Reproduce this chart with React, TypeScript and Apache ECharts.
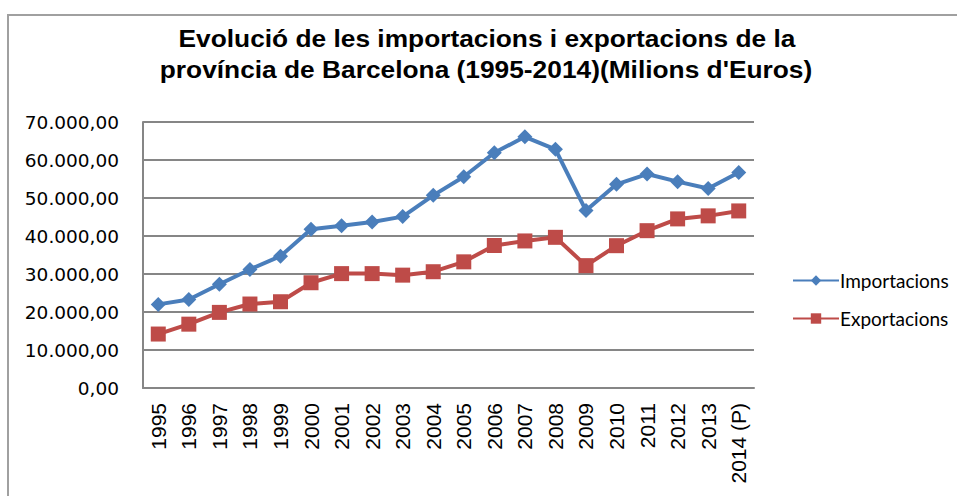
import React, { useEffect, useRef } from "react";
import * as echarts from "echarts";

const years = [
  "1995", "1996", "1997", "1998", "1999", "2000", "2001", "2002", "2003", "2004",
  "2005", "2006", "2007", "2008", "2009", "2010", "2011", "2012", "2013", "2014 (P)",
];
const importacions = [
  22000, 23300, 27300, 31200, 34700, 41750, 42700, 43700, 45100, 50700,
  55600, 61900, 66100, 62800, 46700, 53600, 56300, 54300, 52500, 56700,
];
const exportacions = [
  14200, 16800, 19900, 22100, 22700, 27700, 30100, 30100, 29700, 30600,
  33200, 37500, 38700, 39650, 32200, 37450, 41400, 44500, 45300, 46600,
];
const titleLines = [
  "Evolució de les importacions i exportacions de la",
  "província de Barcelona (1995-2014)(Milions d'Euros)",
];
const seriesNames = ["Importacions", "Exportacions"];
const yMin = 0;
const yMax = 70000;
const yStep = 10000;

function fmt(v: number): string {
  const s = Math.round(v).toString();
  const withDots = s.replace(/\B(?=(\d{3})+(?!\d))/g, ".");
  return withDots + ",00";
}

export default function App() {
  const ref = useRef<HTMLDivElement>(null);
  useEffect(() => {
    if (!ref.current) return;
    const chart = echarts.init(ref.current, null, { renderer: "svg" });
    chart.setOption({
      animation: false,
      backgroundColor: "#ffffff",
      graphic: [
        {
          type: "rect",
          shape: { x: 8, y: 15, width: 1000, height: 600 },
          style: { fill: "none", stroke: "#a0a0a0", lineWidth: 2 },
          z: -1,
        },
        {
          type: "text",
          x: 487,
          y: 39,
          scaleX: 1.12,
          style: {
            text: titleLines[0],
            font: 'bold 23.5px "Liberation Sans", Arial, sans-serif',
            fill: "#000",
            align: "center",
            verticalAlign: "middle",
          },
        },
        {
          type: "text",
          x: 486,
          y: 70,
          scaleX: 1.12,
          style: {
            text: titleLines[1],
            font: 'bold 23.5px "Liberation Sans", Arial, sans-serif',
            fill: "#000",
            align: "center",
            verticalAlign: "middle",
          },
        },
      ],
      grid: { left: 143, right: 203, top: 122, bottom: 108, containLabel: false },
      legend: {
        orient: "vertical",
        left: 787,
        top: 266,
        itemWidth: 46,
        itemHeight: 13,
        itemGap: 19,
        data: seriesNames,
        textStyle: { fontFamily: "Lato", fontSize: 19, color: "#000", padding: [0, 0, 0, -4] },
      },
      xAxis: {
        type: "category",
        data: years,
        boundaryGap: true,
        axisLine: { lineStyle: { color: "#868686", width: 2 } },
        axisTick: { show: false },
        axisLabel: {
          rotate: 90,
          interval: 0,
          margin: 15,
          fontFamily: '"Liberation Sans", Arial',
          fontSize: 21,
          color: "#000",
        },
        splitLine: { show: false },
      },
      yAxis: {
        type: "value",
        min: yMin,
        max: yMax,
        interval: yStep,
        axisLine: { show: true, lineStyle: { color: "#868686", width: 2 } },
        axisTick: { show: false },
        axisLabel: {
          margin: 24,
          fontFamily: '"DejaVu Sans"',
          fontSize: 18.5,
          color: "#000",
          formatter: (v: number) => fmt(v),
        },
        splitLine: { lineStyle: { color: "#868686", width: 2 } },
      },
      series: [
        {
          name: seriesNames[0],
          type: "line",
          data: importacions,
          symbol: "diamond",
          symbolSize: 15,
          color: "#4A7EBB",
          lineStyle: { width: 4, color: "#4A7EBB" },
          itemStyle: { color: "#4A7EBB" },
        },
        {
          name: seriesNames[1],
          type: "line",
          data: exportacions,
          symbol: "rect",
          symbolSize: 15,
          color: "#BE4B48",
          lineStyle: { width: 4, color: "#BE4B48" },
          itemStyle: { color: "#BE4B48" },
        },
      ],
    });
    return () => chart.dispose();
  }, []);
  return (
    <div
      ref={ref}
      style={{ position: "absolute", left: 0, top: 0, width: 957, height: 496 }}
    />
  );
}
